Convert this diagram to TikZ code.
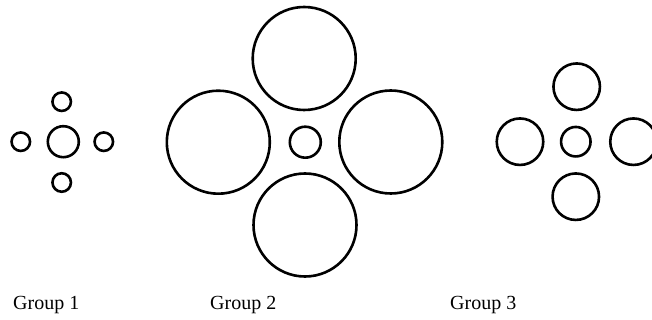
\documentclass[tikz,border=0pt]{standalone}
\usepackage{fontspec}
\setmainfont{Liberation Serif}
\usetikzlibrary{positioning}

\begin{document}
\begin{tikzpicture}[x=1pt, y=-1pt,
    % Circle styles
    ring/.style={circle, draw=black, line width=2.6pt, inner sep=0pt},
    tiny/.style={ring, minimum size=18.5pt},
    hub/.style={ring, minimum size=31pt},
    mid/.style={ring, minimum size=46.5pt},
    big/.style={ring, minimum size=103pt},
    % Text style
    caption/.style={anchor=base west, font=\fontsize{20}{24}\selectfont, inner sep=0pt}
]
\clip (0,0) rectangle (652,320);
% Group 1
\node[hub] (g1c) at (63.3,141.7) {};
\node[tiny] (g1t) at (61.7,101.7) {};
\node[tiny] (g1b) at (61.7,182.5) {};
\node[tiny] (g1l) at (20.8,141.7) {};
\node[tiny] (g1r) at (103.8,141.7) {};
% Group 2
\node[hub] (g2c) at (305.3,142.2) {};
\node[big] (g2t) at (304.2,58.5) {};
\node[big] (g2b) at (305,225) {};
\node[big] (g2l) at (218.3,142.2) {};
\node[big] (g2r) at (390.8,142) {};
% Group 3
\node[hub, minimum size=29.5pt] (g3c) at (575.8,141.7) {};
\node[mid] (g3t) at (576.7,86.7) {};
\node[mid] (g3b) at (575.8,196.7) {};
\node[mid] (g3l) at (520,141.7) {};
\node[mid] (g3r) at (633.5,141.7) {};
% Labels
\node[caption] (t1) at (13,309) {Group 1};
\node[caption] (t2) at (210,309) {Group 2};
\node[caption] (t3) at (450,309) {Group 3};
\end{tikzpicture}
\end{document}
